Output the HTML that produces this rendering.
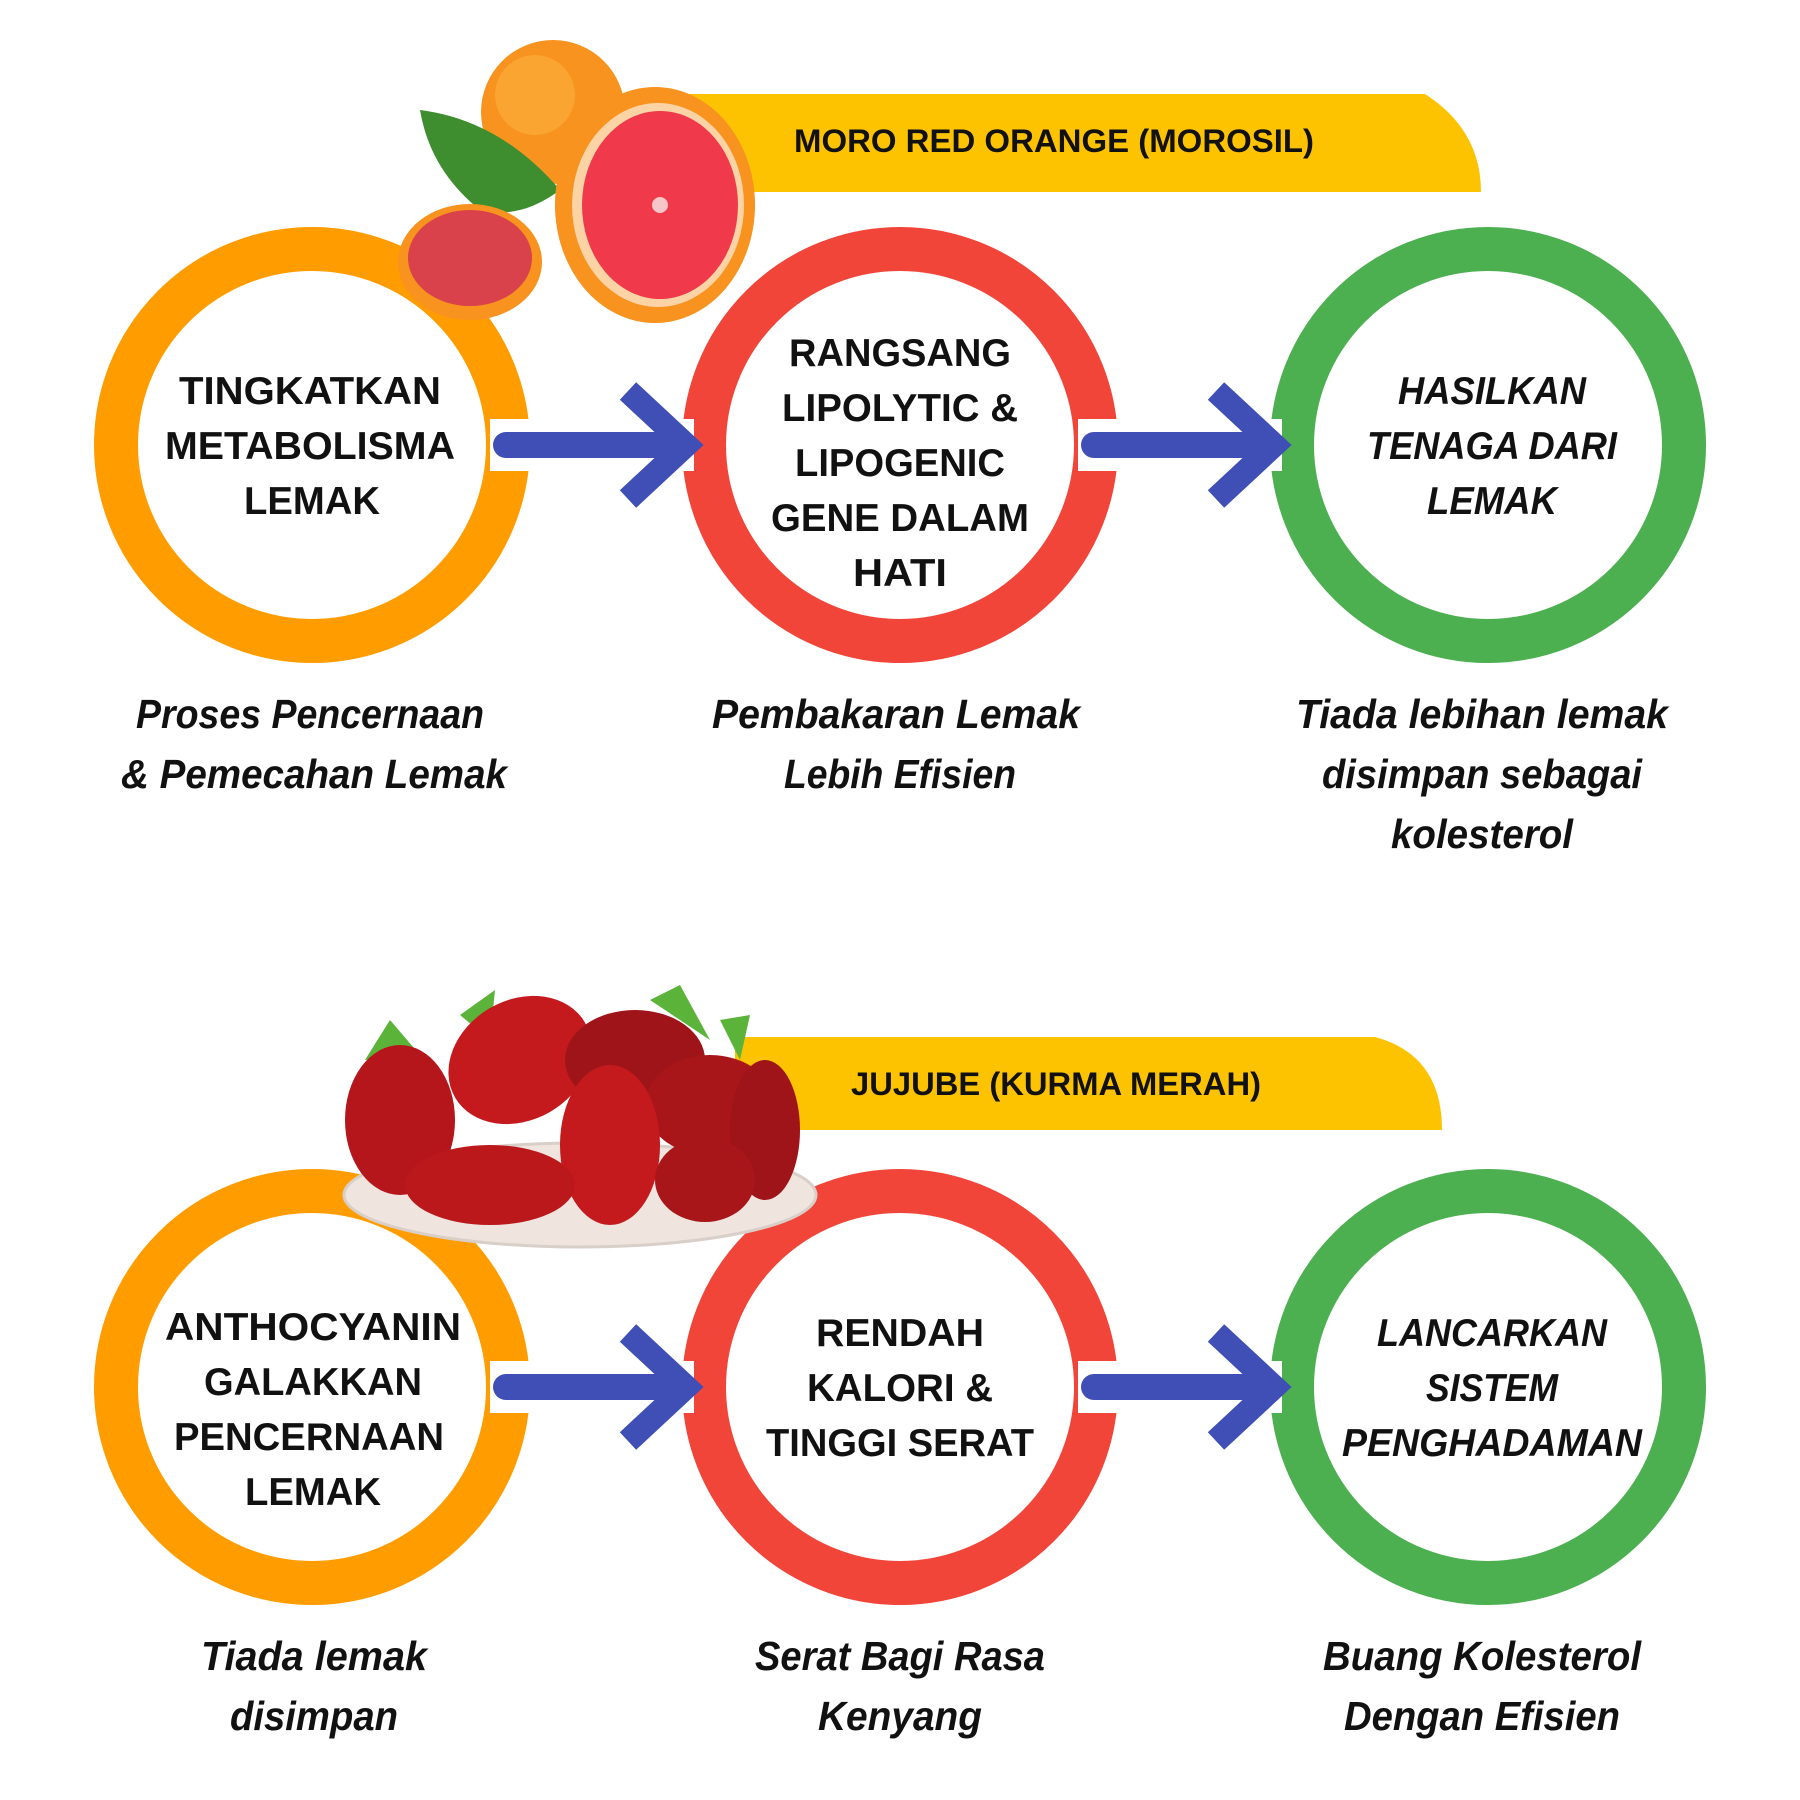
<!DOCTYPE html>
<html><head><meta charset="utf-8"><style>
html,body{margin:0;padding:0;background:#fff}
svg{display:block}
.c{font-family:"Liberation Sans Narrow","Liberation Sans",sans-serif;font-weight:bold;font-size:39px;fill:#111;text-anchor:middle}
.i{font-style:italic}
.cap{font-family:"Liberation Sans Narrow","Liberation Sans",sans-serif;font-weight:bold;font-style:italic;font-size:41px;fill:#111;text-anchor:middle}
.b{font-family:"Liberation Sans Narrow","Liberation Sans",sans-serif;font-weight:bold;font-size:32px;fill:#111;text-anchor:middle}
</style></head><body>
<svg width="1800" height="1800" viewBox="0 0 1800 1800" xmlns="http://www.w3.org/2000/svg">
<defs>
<g id="arrow">
<rect x="-6" y="-26" width="204" height="52" fill="#fff"/>
<line x1="10" y1="0" x2="170" y2="0" stroke="#3F4FB5" stroke-width="26" stroke-linecap="round"/>
<polyline points="132,-54 190,0 132,54" fill="none" stroke="#3F4FB5" stroke-width="24"/>
</g>
</defs>
<path d="M643 94 H1425 Q1481 130 1481 192 H643 Z" fill="#FDC300"/>
<text class="b" x="1054" y="152" textLength="520" lengthAdjust="spacingAndGlyphs">MORO RED ORANGE (MOROSIL)</text>
<path d="M735 1037 H1375 Q1442 1055 1442 1130 H735 Z" fill="#FDC300"/>
<text class="b" x="1056" y="1095" textLength="410" lengthAdjust="spacingAndGlyphs">JUJUBE (KURMA MERAH)</text>

<g fill="none" stroke-width="44">
<circle cx="312" cy="445" r="196" stroke="#FF9C00"/>
<circle cx="900" cy="445" r="196" stroke="#F2453A"/>
<circle cx="1488" cy="445" r="196" stroke="#4CAF50"/>
<circle cx="312" cy="1387" r="196" stroke="#FF9C00"/>
<circle cx="900" cy="1387" r="196" stroke="#F2453A"/>
<circle cx="1488" cy="1387" r="196" stroke="#4CAF50"/>
</g>
<use href="#arrow" x="496" y="445"/>
<use href="#arrow" x="1084" y="445"/>
<use href="#arrow" x="496" y="1387"/>
<use href="#arrow" x="1084" y="1387"/>

<circle cx="553" cy="112" r="72" fill="#F7931E"/>
<circle cx="535" cy="95" r="40" fill="#FBB040" opacity="0.6"/>
<path d="M420 110 Q500 120 560 190 Q520 220 480 210 Q430 170 420 110Z" fill="#3E8E2F"/>
<ellipse cx="470" cy="262" rx="72" ry="58" fill="#F7931E"/>
<ellipse cx="470" cy="258" rx="62" ry="48" fill="#D9414B"/>
<ellipse cx="655" cy="205" rx="100" ry="118" fill="#F7931E"/>
<ellipse cx="658" cy="205" rx="86" ry="102" fill="#FBD3A5"/>
<ellipse cx="660" cy="205" rx="78" ry="94" fill="#F0394A"/>
<circle cx="660" cy="205" r="8" fill="#F8C6C8"/>

<path d="M365 1060 L390 1020 L420 1055Z M460 1015 L495 990 L490 1040Z M650 1000 L680 985 L710 1040Z M720 1020 L750 1015 L740 1060Z" fill="#5BB33A"/>
<ellipse cx="580" cy="1195" rx="236" ry="52" fill="#EFE4DE" stroke="#D9CFC9" stroke-width="3"/>
<ellipse cx="400" cy="1120" rx="55" ry="75" fill="#B5161B"/>
<ellipse cx="520" cy="1060" rx="75" ry="60" fill="#C41A1E" transform="rotate(-30 520 1060)"/>
<ellipse cx="635" cy="1060" rx="70" ry="50" fill="#9E1418"/>
<ellipse cx="710" cy="1105" rx="65" ry="50" fill="#A8161A"/>
<ellipse cx="765" cy="1130" rx="35" ry="70" fill="#9E1418"/>
<ellipse cx="610" cy="1145" rx="50" ry="80" fill="#C41A1E"/>
<ellipse cx="490" cy="1185" rx="85" ry="40" fill="#BB181C"/>
<ellipse cx="705" cy="1180" rx="50" ry="42" fill="#A8161A"/>

<text class="c" x="310" y="404" textLength="262" lengthAdjust="spacingAndGlyphs">TINGKATKAN</text>
<text class="c" x="310" y="459" textLength="290" lengthAdjust="spacingAndGlyphs">METABOLISMA</text>
<text class="c" x="312" y="514" textLength="136" lengthAdjust="spacingAndGlyphs">LEMAK</text>

<text class="c" x="900" y="366" textLength="222" lengthAdjust="spacingAndGlyphs">RANGSANG</text>
<text class="c" x="900" y="421" textLength="236" lengthAdjust="spacingAndGlyphs">LIPOLYTIC &amp;</text>
<text class="c" x="900" y="476" textLength="210" lengthAdjust="spacingAndGlyphs">LIPOGENIC</text>
<text class="c" x="900" y="531" textLength="258" lengthAdjust="spacingAndGlyphs">GENE DALAM</text>
<text class="c" x="900" y="586" textLength="94" lengthAdjust="spacingAndGlyphs">HATI</text>

<text class="c i" x="1492" y="404" textLength="188" lengthAdjust="spacingAndGlyphs">HASILKAN</text>
<text class="c i" x="1492" y="459" textLength="250" lengthAdjust="spacingAndGlyphs">TENAGA DARI</text>
<text class="c i" x="1492" y="514" textLength="130" lengthAdjust="spacingAndGlyphs">LEMAK</text>

<text class="c" x="313" y="1340" textLength="296" lengthAdjust="spacingAndGlyphs">ANTHOCYANIN</text>
<text class="c" x="313" y="1395" textLength="218" lengthAdjust="spacingAndGlyphs">GALAKKAN</text>
<text class="c" x="309" y="1450" textLength="270" lengthAdjust="spacingAndGlyphs">PENCERNAAN</text>
<text class="c" x="313" y="1505" textLength="136" lengthAdjust="spacingAndGlyphs">LEMAK</text>

<text class="c" x="900" y="1346" textLength="168" lengthAdjust="spacingAndGlyphs">RENDAH</text>
<text class="c" x="900" y="1401" textLength="186" lengthAdjust="spacingAndGlyphs">KALORI &amp;</text>
<text class="c" x="900" y="1456" textLength="268" lengthAdjust="spacingAndGlyphs">TINGGI SERAT</text>

<text class="c i" x="1492" y="1346" textLength="230" lengthAdjust="spacingAndGlyphs">LANCARKAN</text>
<text class="c i" x="1492" y="1401" textLength="132" lengthAdjust="spacingAndGlyphs">SISTEM</text>
<text class="c i" x="1492" y="1456" textLength="300" lengthAdjust="spacingAndGlyphs">PENGHADAMAN</text>

<text class="cap" x="310" y="728" textLength="348" lengthAdjust="spacingAndGlyphs">Proses Pencernaan</text>
<text class="cap" x="314" y="788" textLength="386" lengthAdjust="spacingAndGlyphs">&amp; Pemecahan Lemak</text>
<text class="cap" x="896" y="728" textLength="368" lengthAdjust="spacingAndGlyphs">Pembakaran Lemak</text>
<text class="cap" x="900" y="788" textLength="232" lengthAdjust="spacingAndGlyphs">Lebih Efisien</text>
<text class="cap" x="1482" y="728" textLength="372" lengthAdjust="spacingAndGlyphs">Tiada lebihan lemak</text>
<text class="cap" x="1482" y="788" textLength="320" lengthAdjust="spacingAndGlyphs">disimpan sebagai</text>
<text class="cap" x="1482" y="848" textLength="182" lengthAdjust="spacingAndGlyphs">kolesterol</text>

<text class="cap" x="314" y="1670" textLength="226" lengthAdjust="spacingAndGlyphs">Tiada lemak</text>
<text class="cap" x="314" y="1730" textLength="168" lengthAdjust="spacingAndGlyphs">disimpan</text>
<text class="cap" x="900" y="1670" textLength="290" lengthAdjust="spacingAndGlyphs">Serat Bagi Rasa</text>
<text class="cap" x="900" y="1730" textLength="164" lengthAdjust="spacingAndGlyphs">Kenyang</text>
<text class="cap" x="1482" y="1670" textLength="318" lengthAdjust="spacingAndGlyphs">Buang Kolesterol</text>
<text class="cap" x="1482" y="1730" textLength="276" lengthAdjust="spacingAndGlyphs">Dengan Efisien</text>
</svg>
</body></html>
